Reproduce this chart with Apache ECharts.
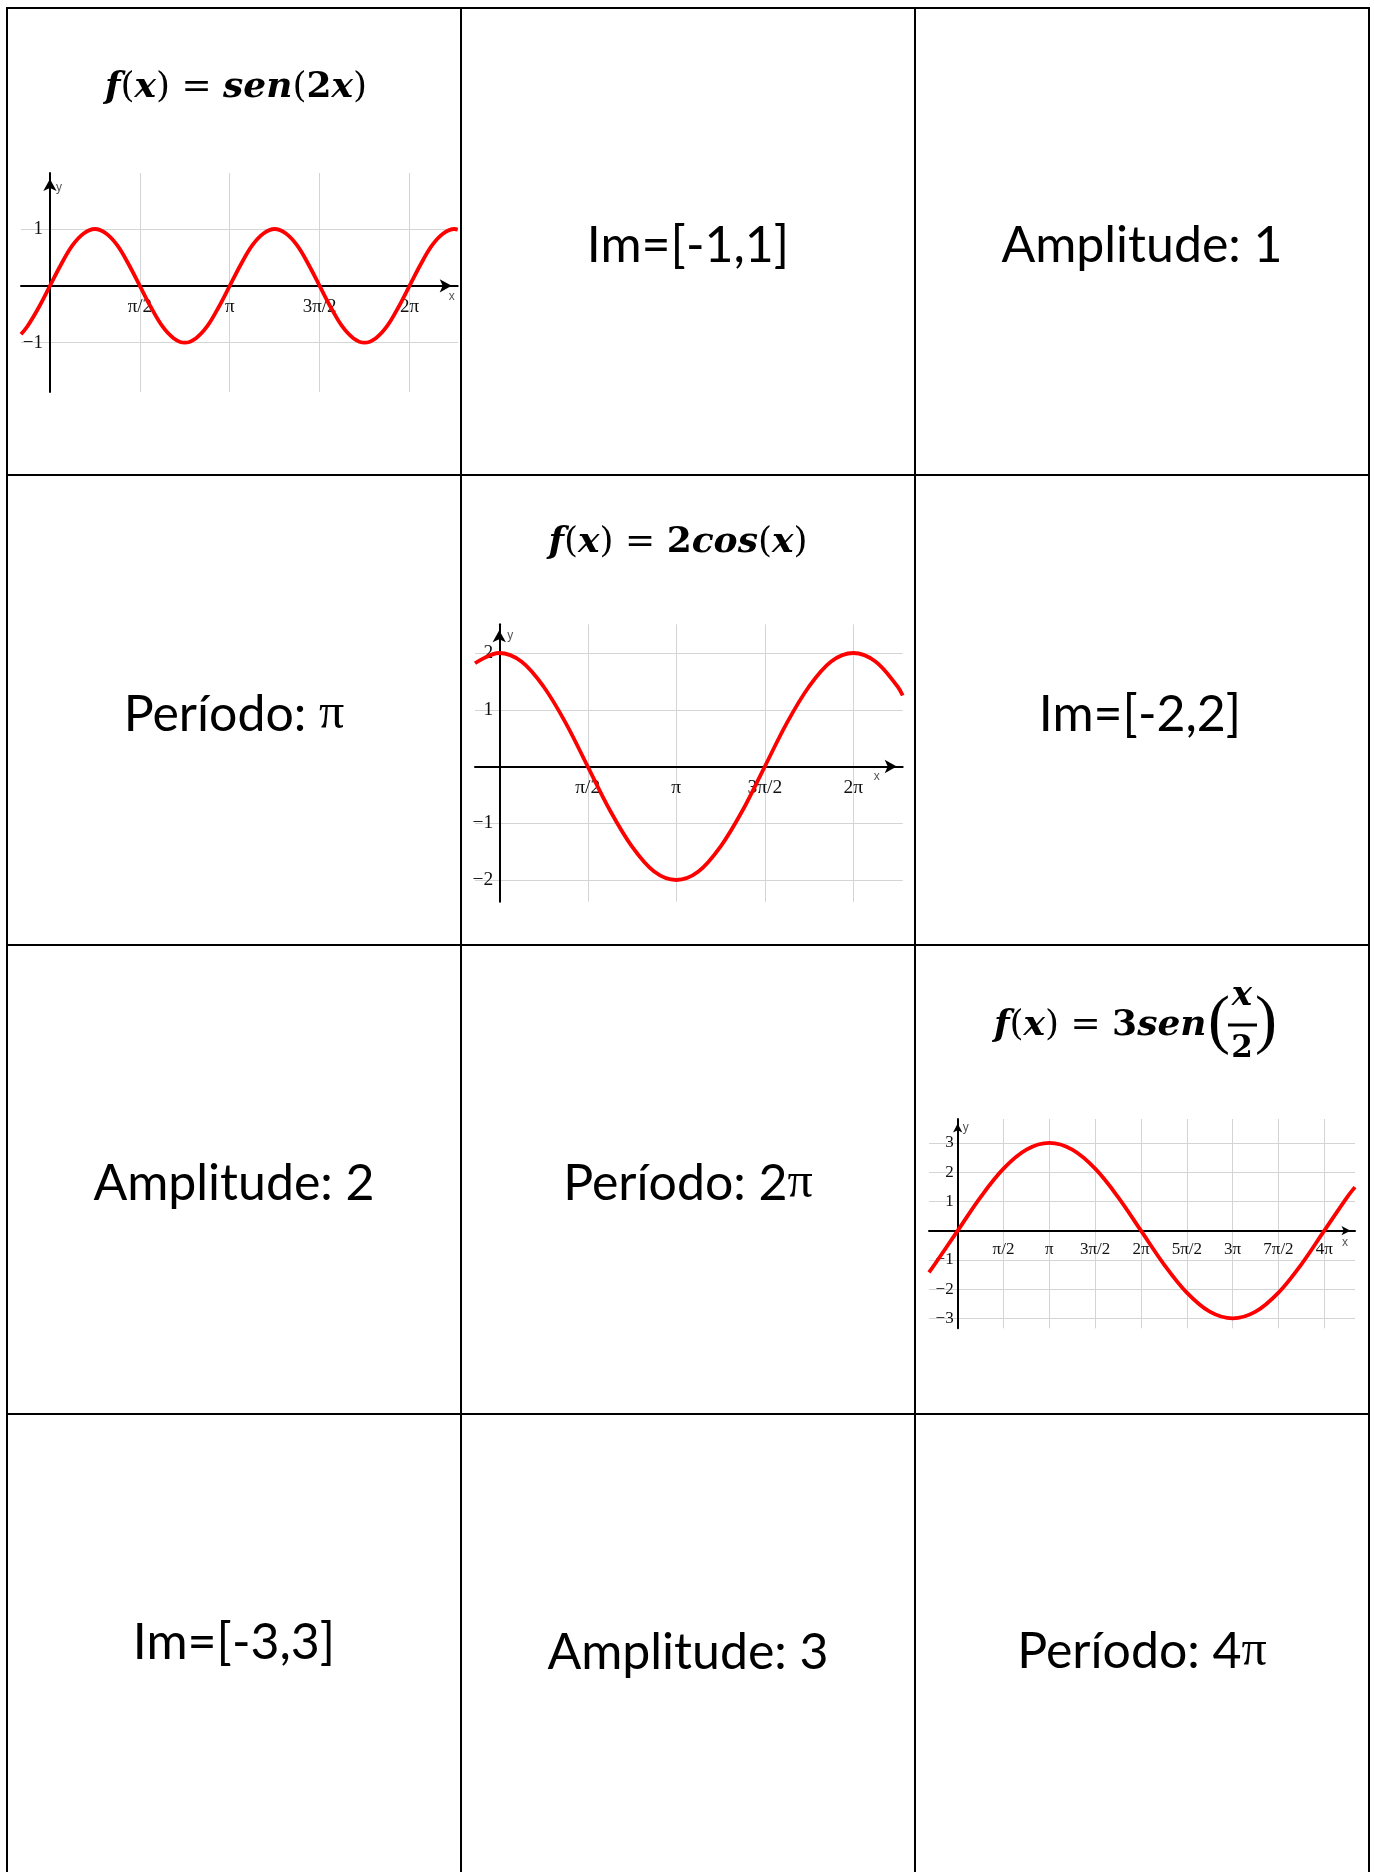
<!DOCTYPE html>
<html>
<head>
<meta charset="utf-8">
<script src="https://cdn.jsdelivr.net/npm/echarts@6/dist/echarts.min.js"></script>
<style>
html,body{margin:0;padding:0;background:#fff;}
#main{width:1374px;height:1872px;}
</style>
</head>
<body>
<div id="main"></div>
<script>
// ---------------- DATA (x in multiples of π) ----------------
// Chart 1: f(x) = sen(2x)
const sin2xX = [-0.161, -0.125, -0.0625, 0, 0.0625, 0.125, 0.1875, 0.25, 0.3125, 0.375, 0.4375, 0.5, 0.5625, 0.625, 0.6875, 0.75, 0.8125, 0.875, 0.9375, 1, 1.0625, 1.125, 1.1875, 1.25, 1.3125, 1.375, 1.4375, 1.5, 1.5625, 1.625, 1.6875, 1.75, 1.8125, 1.875, 1.9375, 2, 2.0625, 2.125, 2.1875, 2.25, 2.268];
const sin2xY = [-0.85, -0.71, -0.38, 0, 0.38, 0.71, 0.92, 1, 0.92, 0.71, 0.38, 0, -0.38, -0.71, -0.92, -1, -0.92, -0.71, -0.38, 0, 0.38, 0.71, 0.92, 1, 0.92, 0.71, 0.38, 0, -0.38, -0.71, -0.92, -1, -0.92, -0.71, -0.38, 0, 0.38, 0.71, 0.92, 1, 0.99];
const xTicks1 = [0.5, 1, 1.5, 2];
const xLabels1 = ['π/2', 'π', '3π/2', '2π'];
const yTicks1 = [-1, 1];

// Chart 2: f(x) = 2cos(x)
const cosX = [-0.137, 0, 0.125, 0.25, 0.375, 0.5, 0.625, 0.75, 0.875, 1, 1.125, 1.25, 1.375, 1.5, 1.625, 1.75, 1.875, 2, 2.125, 2.25, 2.279];
const cosY = [1.82, 2, 1.85, 1.41, 0.77, 0, -0.77, -1.41, -1.85, -2, -1.85, -1.41, -0.77, 0, 0.77, 1.41, 1.85, 2, 1.85, 1.41, 1.25];
const xTicks2 = [0.5, 1, 1.5, 2];
const xLabels2 = ['π/2', 'π', '3π/2', '2π'];
const yTicks2 = [-2, -1, 1, 2];

// Chart 3: f(x) = 3sen(x/2)
const sinHalfX = [-0.313, -0.25, 0, 0.25, 0.5, 0.75, 1, 1.25, 1.5, 1.75, 2, 2.25, 2.5, 2.75, 3, 3.25, 3.5, 3.75, 4, 4.25, 4.335];
const sinHalfY = [-1.43, -1.15, 0, 1.15, 2.12, 2.77, 3, 2.77, 2.12, 1.15, 0, -1.15, -2.12, -2.77, -3, -2.77, -2.12, -1.15, 0, 1.15, 1.49];
const xTicks3 = [0.5, 1, 1.5, 2, 2.5, 3, 3.5, 4];
const xLabels3 = ['π/2', 'π', '3π/2', '2π', '5π/2', '3π', '7π/2', '4π'];
const yTicks3 = [-3, -2, -1, 1, 2, 3];

// Card texts
const formulas = [
  '{i|f}{r|(}{i|x}{r|) = }{i|sen}{r|(}{b|2}{i|x}{r|)}',
  '{i|f}{r|(}{i|x}{r|) = }{b|2}{i|cos}{r|(}{i|x}{r|)}',
  '{i|f}{r|(}{i|x}{r|) = }{b|3}{i|sen}'
];
const cellTexts = [
  'Im=[-1,1]', 'Amplitude: 1',
  'Período: {p|π}', 'Im=[-2,2]',
  'Amplitude: 2', 'Período: 2{p|π}',
  'Im=[-3,3]', 'Amplitude: 3', 'Período: 4{p|π}'
];

// ---------------- LAYOUT ----------------
const chart = echarts.init(document.getElementById('main'), null, {renderer: 'canvas'});

function pairs(xs, ys) { return xs.map((x, i) => [x, ys[i]]); }
function yFmt(v) { return v < 0 ? '\u2212' + Math.abs(v) : String(v); }

const plots = [
  {grid: {left: 21, top: 173, width: 436.7, height: 219}, xr: [-0.161, 2.268], yr: [-1.867, 1.985],
   xt: xTicks1, xl: xLabels1, yt: yTicks1, fs: 19, xm: 12, ym: 7, arrow: [10, 12],
   xName: {gap: -6, pad: 5}, yName: {gap: -15, pad: 6}, data: pairs(sin2xX, sin2xY)},
  {grid: {left: 475, top: 624.3, width: 427.7, height: 277.4}, xr: [-0.137, 2.279], yr: [-2.382, 2.506],
   xt: xTicks2, xl: xLabels2, yt: yTicks2, fs: 19.5, xm: 11, ym: 6, arrow: [10, 12],
   xName: {gap: -26, pad: 4}, yName: {gap: -11, pad: 8}, data: pairs(cosX, cosY)},
  {grid: {left: 929, top: 1119, width: 426, height: 209.3}, xr: [-0.313, 4.335], yr: [-3.34, 3.82],
   xt: xTicks3, xl: xLabels3, yt: yTicks3, fs: 17, xm: 10, ym: 4, arrow: [7, 9],
   xName: {gap: -10, pad: 6}, yName: {gap: -9, pad: 5}, data: pairs(sinHalfX, sinHalfY)}
];

const gridCol = '#d4d4d4';
const labelCol = '#111';
const grids = [], xAxes = [], yAxes = [], series = [];
plots.forEach((p, i) => {
  grids.push(Object.assign({containLabel: false, outerBoundsMode: 'none'}, p.grid));
  // place the axes through the origin (x = 0, y = 0)
  const xAxisOffset = -(0 - p.yr[0]) / (p.yr[1] - p.yr[0]) * p.grid.height;
  const yAxisOffset = -(0 - p.xr[0]) / (p.xr[1] - p.xr[0]) * p.grid.width;
  const axisLine = {show: true, onZero: false, symbol: ['none', 'arrow'], symbolSize: p.arrow,
    symbolOffset: [0, -p.arrow[1] / 2], lineStyle: {color: '#000', width: 2}};
  xAxes.push({
    type: 'value', gridIndex: i, min: p.xr[0], max: p.xr[1], position: 'bottom', offset: xAxisOffset,
    axisLine: axisLine,
    axisTick: {show: false, customValues: p.xt},
    axisLabel: {customValues: p.xt, margin: p.xm, fontFamily: 'Liberation Serif', fontSize: p.fs, color: labelCol,
      formatter: v => { const k = p.xt.findIndex(t => Math.abs(t - v) < 1e-6); return k >= 0 ? p.xl[k] : ''; }},
    splitLine: {show: true, lineStyle: {color: gridCol, width: 1}},
    name: 'x', nameLocation: 'end', nameGap: p.xName.gap,
    nameTextStyle: {fontFamily: 'Liberation Sans', fontSize: 12, color: '#555', align: 'center', verticalAlign: 'top', padding: [p.xName.pad, 0, 0, 0]}
  });
  yAxes.push({
    type: 'value', gridIndex: i, min: p.yr[0], max: p.yr[1], position: 'left', offset: yAxisOffset,
    axisLine: axisLine,
    axisTick: {show: false, customValues: p.yt},
    axisLabel: {customValues: p.yt, margin: p.ym, fontFamily: 'Liberation Serif', fontSize: p.fs, color: labelCol, formatter: yFmt},
    splitLine: {show: true, lineStyle: {color: gridCol, width: 1}},
    name: 'y', nameLocation: 'end', nameGap: p.yName.gap,
    nameTextStyle: {fontFamily: 'Liberation Sans', fontSize: 12, color: '#555', align: 'left', verticalAlign: 'middle', padding: [0, 0, 0, p.yName.pad]}
  });
  series.push({
    type: 'line', xAxisIndex: i, yAxisIndex: i, data: p.data, smooth: 0.35,
    showSymbol: false, symbol: 'none', silent: true,
    lineStyle: {color: '#ff0000', width: 3.8}
  });
});

// table borders
const colX = [7, 461, 915, 1369];
const rowY = [8, 475, 945, 1414];
const graphics = [];
colX.forEach(x => graphics.push({type: 'line', silent: true, shape: {x1: x, y1: 7, x2: x, y2: 1872}, style: {stroke: '#000', lineWidth: 2}}));
rowY.forEach(y => graphics.push({type: 'line', silent: true, shape: {x1: 6, y1: y, x2: 1370, y2: y}, style: {stroke: '#000', lineWidth: 2}}));

// formula titles
const mathFont = 'DejaVu Serif';
const mfs = 36;
const mathRich = {
  i: {fontFamily: mathFont, fontStyle: 'italic', fontWeight: 'bold', fontSize: mfs, fill: '#000'},
  b: {fontFamily: mathFont, fontWeight: 'bold', fontSize: mfs, fill: '#000'},
  r: {fontFamily: mathFont, fontWeight: 'normal', fontSize: mfs, fill: '#000'}
};
const titlePos = [[236, 88, 'center'], [678, 543, 'center'], [994, 1026, 'left']];
formulas.forEach((t, k) => {
  graphics.push({type: 'text', silent: true, style: {text: t, rich: mathRich, x: titlePos[k][0], y: titlePos[k][1],
    align: titlePos[k][2], verticalAlign: 'middle'}});
});
// fraction x/2 of third formula
graphics.push({type: 'text', silent: true, style: {text: '(', x: 1219, y: 1024, align: 'center', verticalAlign: 'middle',
  fontFamily: 'Liberation Serif', fontSize: 66, fill: '#000'}});
graphics.push({type: 'text', silent: true, style: {text: ')', x: 1266, y: 1024, align: 'center', verticalAlign: 'middle',
  fontFamily: 'Liberation Serif', fontSize: 66, fill: '#000'}});
graphics.push({type: 'text', silent: true, style: {text: 'x', x: 1242, y: 996, align: 'center', verticalAlign: 'middle',
  fontFamily: mathFont, fontStyle: 'italic', fontWeight: 'bold', fontSize: 34, fill: '#000'}});
graphics.push({type: 'line', silent: true, shape: {x1: 1228, y1: 1025, x2: 1257, y2: 1025}, style: {stroke: '#000', lineWidth: 3}});
graphics.push({type: 'text', silent: true, style: {text: '2', x: 1242, y: 1049, align: 'center', verticalAlign: 'middle',
  fontFamily: mathFont, fontWeight: 'bold', fontSize: 31, fill: '#000'}});

// card texts
const textPos = [[688, 246], [1142, 246], [234, 715], [1140, 715], [234, 1184], [688, 1184], [234, 1643], [688, 1653], [1142, 1652]];
cellTexts.forEach((t, k) => {
  graphics.push({type: 'text', silent: true, style: {text: t, x: textPos[k][0], y: textPos[k][1], align: 'center', verticalAlign: 'middle',
    fontFamily: 'Lato', fontSize: 50, fill: '#000',
    rich: {p: {fontFamily: 'Liberation Serif', fontSize: 50, fill: '#000'}}}});
});

chart.setOption({
  backgroundColor: '#fff',
  animation: false,
  grid: grids,
  xAxis: xAxes,
  yAxis: yAxes,
  series: series,
  graphic: {elements: graphics}
});
</script>
</body>
</html>
